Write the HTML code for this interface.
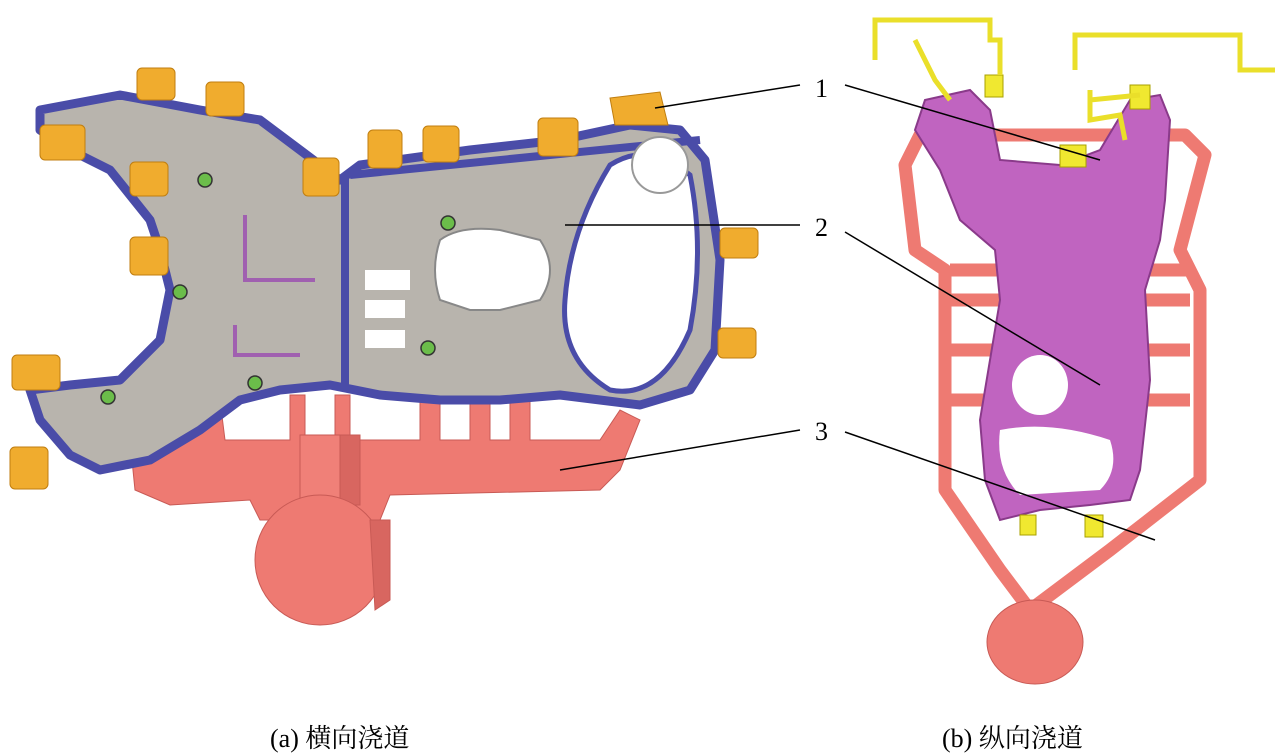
<!DOCTYPE html>
<html><head><meta charset="utf-8"><style>
body{margin:0;background:#fff;}
svg{display:block}
</style></head><body>
<svg width="1280" height="755" viewBox="0 0 1280 755" xmlns="http://www.w3.org/2000/svg">
<rect width="1280" height="755" fill="#fff"/>
<!-- LEFT runner -->
<g fill="#ee7a72" stroke="#c85a55" stroke-width="1">
<path d="M130 440 L150 420 L200 420 L205 400 L220 400 L225 440 L290 440 L290 395 L305 395 L305 440 L335 440 L335 395 L350 395 L350 440 L420 440 L420 400 L440 400 L440 440 L470 440 L470 400 L490 400 L490 440 L510 440 L510 400 L530 400 L530 440 L600 440 L620 410 L640 420 L620 470 L600 490 L390 495 L380 520 L260 520 L250 500 L170 505 L135 490 Z"/>
<rect x="300" y="435" width="60" height="70" fill="#f08078"/>
<rect x="340" y="435" width="20" height="70" fill="#d86660"/>
<ellipse cx="320" cy="560" rx="65" ry="65"/>
<path d="M370 520 L390 520 L390 600 L375 610 Z" fill="#d86660"/>
</g>
<!-- LEFT part gray -->
<path d="M40 110 L120 95 L200 110 L260 120 L300 150 L340 180 L360 165 L470 150 L560 140 L630 125 L680 130 L705 160 L720 260 L715 350 L690 390 L640 405 L600 400 L560 395 L500 400 L440 400 L380 395 L330 385 L280 390 L240 400 L200 430 L150 460 L100 470 L70 455 L40 420 L30 390 L70 385 L120 380 L160 340 L170 290 L160 250 L150 220 L110 170 L70 150 L40 130 Z" fill="#b8b4ad" stroke="#4a4ca8" stroke-width="9" stroke-linejoin="round"/>
<path d="M350 175 L700 140" stroke="#4a4ca8" stroke-width="8" fill="none"/>
<path d="M345 175 L345 385" stroke="#4a4ca8" stroke-width="8"/>
<!-- holes -->
<path d="M440 240 Q460 225 500 230 L540 240 Q560 270 540 300 L500 310 L470 310 L440 300 Q430 270 440 240Z" fill="#fff" stroke="#888" stroke-width="2"/>
<path d="M610 165 Q650 140 690 175 Q705 250 690 330 Q660 400 610 390 Q560 360 565 300 Q570 230 610 165Z" fill="#fff" stroke="#4a4ca8" stroke-width="5"/>
<circle cx="660" cy="165" r="28" fill="#fff" stroke="#999" stroke-width="2"/>
<rect x="365" y="270" width="45" height="20" fill="#fff"/>
<rect x="365" y="300" width="40" height="18" fill="#fff"/>
<rect x="365" y="330" width="40" height="18" fill="#fff"/>
<path d="M245 215 L245 280 L315 280" stroke="#a060b0" stroke-width="4" fill="none"/>
<path d="M235 325 L235 355 L300 355" stroke="#a060b0" stroke-width="4" fill="none"/>
<g fill="#6bbd4a" stroke="#333" stroke-width="1.5">
<circle cx="205" cy="180" r="7"/><circle cx="180" cy="292" r="7"/><circle cx="255" cy="383" r="7"/><circle cx="108" cy="397" r="7"/><circle cx="448" cy="223" r="7"/><circle cx="428" cy="348" r="7"/>
</g>
<!-- orange tabs -->
<g fill="#f0ac2e" stroke="#c07e10" stroke-width="1">
<rect x="137" y="68" width="38" height="32" rx="5"/><rect x="206" y="82" width="38" height="34" rx="5"/>
<rect x="40" y="125" width="45" height="35" rx="5"/><rect x="130" y="162" width="38" height="34" rx="5"/>
<rect x="130" y="237" width="38" height="38" rx="5"/><rect x="303" y="158" width="36" height="38" rx="5"/>
<rect x="368" y="130" width="34" height="38" rx="5"/><rect x="423" y="126" width="36" height="36" rx="5"/>
<rect x="538" y="118" width="40" height="38" rx="5"/><path d="M610 98 L660 92 L668 125 L615 125 Z"/>
<rect x="720" y="228" width="38" height="30" rx="5"/><rect x="718" y="328" width="38" height="30" rx="5"/>
<rect x="12" y="355" width="48" height="35" rx="5"/><rect x="10" y="447" width="38" height="42" rx="5"/>
</g>
<!-- RIGHT runner frame -->
<g fill="none" stroke="#ee7a72" stroke-width="13" stroke-linejoin="round">
<path d="M920 135 L905 165 L915 250 L945 270 L945 490 L1000 570 L1030 610 L1070 580 L1110 550 L1200 480 L1200 290 L1180 250 L1205 155 L1185 135 Z"/>
<path d="M950 270 L1190 270 M950 300 L1190 300 M950 350 L1190 350 M950 400 L1190 400"/>
</g>
<ellipse cx="1035" cy="642" rx="48" ry="42" fill="#ee7a72" stroke="#c85a55"/>
<!-- RIGHT part magenta -->
<path d="M925 100 L970 90 L990 110 L1000 160 L1060 165 L1100 150 L1130 100 L1160 95 L1170 120 L1165 200 L1160 240 L1145 290 L1150 380 L1140 470 L1130 500 L1090 505 L1040 510 L1000 520 L985 480 L980 420 L990 360 L1000 300 L995 250 L960 220 L940 170 L915 130 Z" fill="#c064c0" stroke="#8a3a8a" stroke-width="2"/>
<ellipse cx="1040" cy="385" rx="28" ry="30" fill="#fff"/>
<path d="M1000 430 Q1050 420 1110 440 Q1120 470 1100 490 L1020 495 Q995 470 1000 430Z" fill="#fff"/>
<g fill="#f0e830" stroke="#a8a000"><rect x="1020" y="515" width="16" height="20"/><rect x="1085" y="515" width="18" height="22"/><rect x="1060" y="145" width="26" height="22"/><rect x="1130" y="85" width="20" height="24"/><rect x="985" y="75" width="18" height="22"/></g>
<g fill="none" stroke="#eadf2a" stroke-width="5">
<path d="M875 60 L875 20 L990 20 L990 40 L1000 40 L1000 75"/>
<path d="M915 40 L935 80 L950 100"/>
<path d="M1075 70 L1075 35 L1240 35 L1240 70 L1275 70"/>
<path d="M1090 90 L1090 120 L1120 115 L1125 140 M1090 100 L1140 95"/>
</g>
<!-- labels and leaders -->
<g stroke="#000" stroke-width="1.5" fill="none">
<path d="M655 108 L800 85"/><path d="M845 85 L1100 160"/>
<path d="M565 225 L800 225"/><path d="M845 232 L1100 385"/>
<path d="M560 470 L800 430"/><path d="M845 432 L1155 540"/>
</g>
<g font-family="Liberation Serif, serif" font-size="26" fill="#000">
<text x="815" y="97">1</text><text x="815" y="236">2</text><text x="815" y="440">3</text>
</g>
<g font-family="'Liberation Serif','Noto Serif CJK SC',serif" font-size="26" fill="#000">
<text x="270" y="747">(a) 横向浇道</text><text x="942" y="747">(b) 纵向浇道</text>
</g>
</svg>
</body></html>
